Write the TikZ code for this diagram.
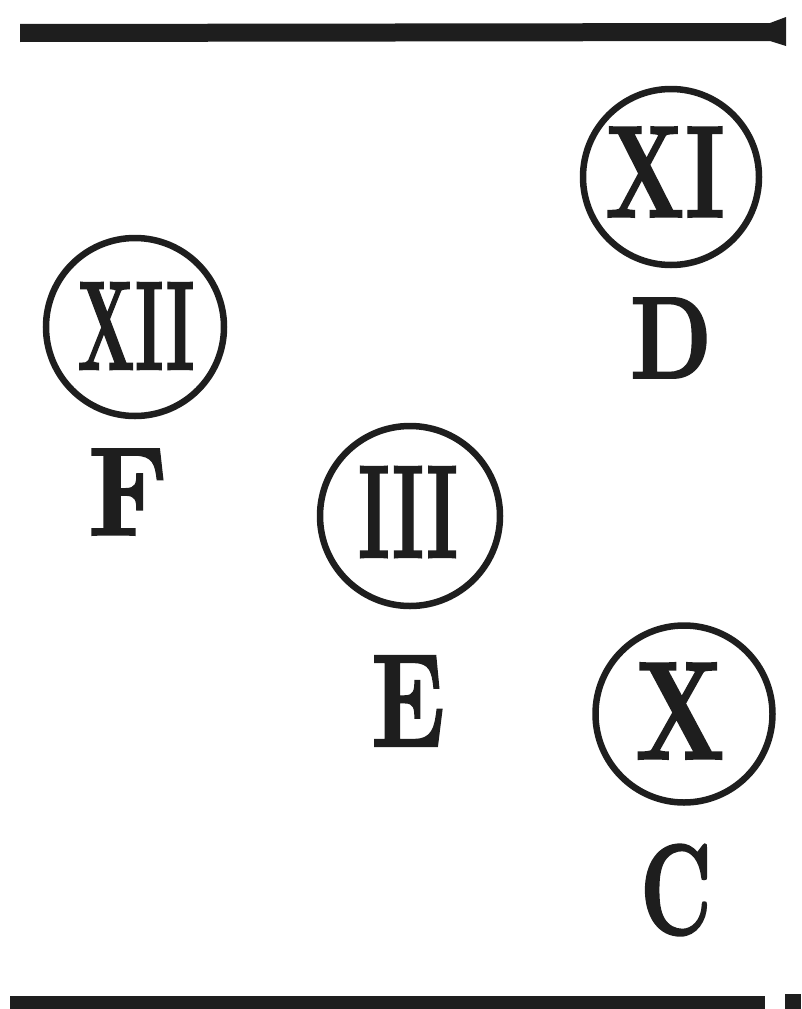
\documentclass[tikz,border=0pt]{standalone}
\usepackage{fontspec}
\newfontfamily\heavy[FakeBold=1.5]{lmroman10-bold.otf}
\definecolor{ink}{RGB}{30,30,30}
\newcommand{\fitglyph}[3]{\resizebox{#1pt}{#2pt}{\heavy #3}}
\begin{document}
\begin{tikzpicture}[x=1pt,y=-1pt,
  ring/.style={circle,draw=ink,line width=6.5pt,inner sep=0pt},
  glyph/.style={inner sep=0pt,text=ink},
  bar/.style={fill=ink,draw=none}]
\useasboundingbox (0,0) rectangle (801,1009);
% rules
\fill[bar] (20,24) -- (770,23) -- (786,17) -- (786,46) -- (770,41) -- (20,42) -- cycle;
\fill[bar] (10,996) rectangle (765,1009);
\fill[bar] (785,994) rectangle (801,1009);
% circles
\node[ring,minimum size=176pt] (cD) at (671,177) {};
\node[ring,minimum size=178pt] (cF) at (135,327) {};
\node[ring,minimum size=180pt] (cE) at (410,516) {};
\node[ring,minimum size=177pt] (cC) at (684,714) {};
% numerals
\node[glyph] (nD) at (665,172) {\fitglyph{120}{90}{XI}};
\node[glyph] (nF) at (136,326) {\fitglyph{117}{87}{XII}};
\node[glyph] (nE) at (408,512) {\fitglyph{100}{91}{III}};
\node[glyph] (nC) at (680,711) {\fitglyph{90}{96}{X}};
% letters
\node[glyph] (D) at (671,338) {\fitglyph{82}{80}{D}};
\node[glyph] (F) at (128,492) {\fitglyph{80}{86}{F}};
\node[glyph] (E) at (408,701) {\fitglyph{74}{90}{E}};
\node[glyph] (C) at (676,890) {\fitglyph{72}{90}{C}};
\end{tikzpicture}
\end{document}
